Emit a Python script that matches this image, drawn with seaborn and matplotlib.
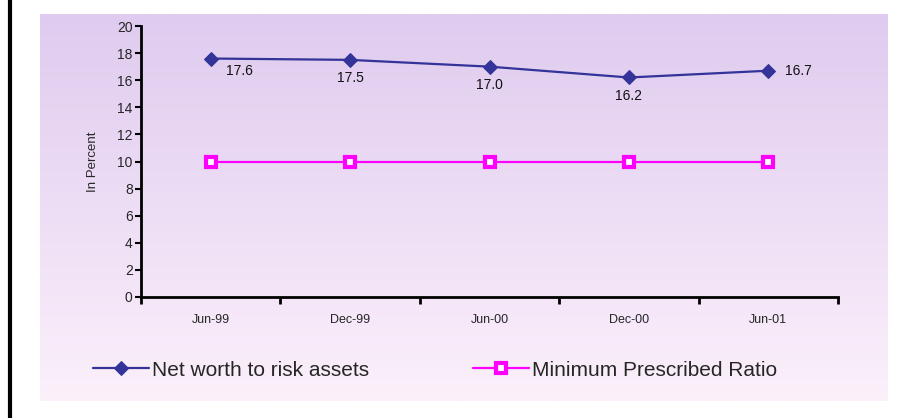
import numpy as np
import pandas as pd
import matplotlib
matplotlib.use("Agg")
import matplotlib.pyplot as plt
from matplotlib.lines import Line2D
from matplotlib.colors import LinearSegmentedColormap
import seaborn as sns

periods = ["Jun-99", "Dec-99", "Jun-00", "Dec-00", "Jun-01"]
net_worth = [17.6, 17.5, 17.0, 16.2, 16.7]
min_ratio = [10, 10, 10, 10, 10]
label_text = ["17.6", "17.5", "17.0", "16.2", "16.7"]

df = pd.DataFrame({"period": periods, "Net worth to risk assets": net_worth,
                   "Minimum Prescribed Ratio": min_ratio})

sns.set_theme(style="white")
plt.rcParams["font.family"] = ["Liberation Sans", "DejaVu Sans"]

W, H = 907, 418
fig = plt.figure(figsize=(W / 100, H / 100), dpi=100)

# gradient panel behind the chart
bg = fig.add_axes([40 / W, 1 - 401 / H, 848 / W, 387 / H], zorder=0)
cmap = LinearSegmentedColormap.from_list("bg", ["#dfcbef", "#fcf0fb"])
bg.imshow(np.linspace(0, 1, 256).reshape(-1, 1), aspect="auto", cmap=cmap,
          extent=[0, 1, 0, 1])
bg.set_axis_off()

# black rule at the left edge
fig.add_artist(Line2D([9.5 / W, 9.5 / W], [0, 1], color="black", lw=3,
                      transform=fig.transFigure))

ax = fig.add_axes([141 / W, 1 - 297 / H, 697 / W, 271 / H], zorder=1)
ax.patch.set_alpha(0)

sns.lineplot(data=df, x="period", y="Net worth to risk assets", ax=ax,
             color="#333399", marker="D", markersize=7.5, linewidth=1.6,
             markeredgecolor="#333399", label="Net worth to risk assets")
sns.lineplot(data=df, x="period", y="Minimum Prescribed Ratio", ax=ax,
             color="#ff00ff", marker="s", markersize=7.5, linewidth=1.6,
             markerfacecolor="white", markeredgecolor="#ff00ff",
             markeredgewidth=3, label="Minimum Prescribed Ratio")

for i, (v, t) in enumerate(zip(net_worth, label_text)):
    if i == len(net_worth) - 1:
        ax.annotate(t, (i, v), xytext=(12, 0), textcoords="offset points",
                    ha="left", va="center", fontsize=10, color="#111111")
    elif i == 0:
        ax.annotate(t, (i, v), xytext=(11, -9), textcoords="offset points",
                    ha="left", va="center", fontsize=10, color="#111111")
    else:
        ax.annotate(t, (i, v), xytext=(0, -13), textcoords="offset points",
                    ha="center", va="center", fontsize=10, color="#111111")

ax.set_xlim(-0.5, len(periods) - 0.5)
ax.set_ylim(0, 20)
ax.set_yticks(range(0, 21, 2))
ax.set_xticks(np.arange(-0.5, len(periods), 1.0))
ax.set_xticklabels([])
ax.set_xticks(range(len(periods)), minor=True)
ax.set_xticklabels(periods, minor=True)
ax.tick_params(axis="x", which="major", direction="out", length=5, width=2,
               color="black", bottom=True)
ax.tick_params(axis="x", which="minor", length=0, pad=12, labelsize=9)
ax.tick_params(axis="y", direction="out", length=4, width=1.5, color="black",
               left=True, labelsize=10, pad=2)
ax.set_xlabel("")
ax.set_ylabel("In Percent", fontsize=9.5, labelpad=13)
for s in ["top", "right"]:
    ax.spines[s].set_visible(False)
for s in ["left", "bottom"]:
    ax.spines[s].set_color("black")
    ax.spines[s].set_linewidth(2)

handles, labels = ax.get_legend_handles_labels()
ax.get_legend().remove()
fig.legend(handles, labels, loc="center", bbox_to_anchor=(435 / W, 1 - 370 / H),
           ncol=2, frameon=False, fontsize=15, handlelength=2.7,
           columnspacing=4.95, handletextpad=0.15)

fig.savefig("out.png", dpi=100)
